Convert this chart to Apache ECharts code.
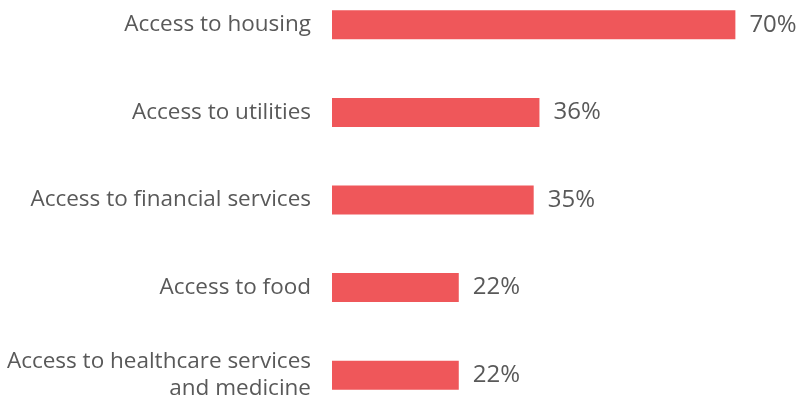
<!DOCTYPE html>
<html>
<head>
<meta charset="utf-8">
<script src="https://cdn.jsdelivr.net/npm/echarts@6/dist/echarts.min.js"></script>
<style>
  html, body { margin: 0; padding: 0; background: #fff; overflow: hidden; }
  #wrap { width: 800px; height: 402px; overflow: hidden; position: relative; }
  /* the plot bands run slightly past the top and bottom edges */
  #chart { width: 800px; height: 438px; position: absolute; left: 0; top: -19px; }
</style>
</head>
<body>
<div id="wrap"><div id="chart"></div></div>
<script>
// Share of respondents reporting each type of access
const categories = [
  'Access to housing',
  'Access to utilities',
  'Access to financial services',
  'Access to food',
  'Access to healthcare services\nand medicine'
];
const values = [70, 36, 35, 22, 22];

const textColor = '#595959';
const barColor = '#EF575A';
const fontFamily = '"Open Sans", "Noto Sans", sans-serif';

const chart = echarts.init(document.getElementById('chart'));
chart.setOption({
  animation: false,
  grid: { left: 332, right: 7, top: 0, bottom: 0, containLabel: false },
  xAxis: {
    type: 'value', min: 0, max: 80, show: false
  },
  yAxis: {
    type: 'category',
    data: categories,
    inverse: true,
    axisLine: { show: false },
    axisTick: { show: false },
    axisLabel: {
      margin: 21,
      color: textColor,
      fontFamily: fontFamily,
      fontSize: 22.5,
      lineHeight: 27,
      align: 'right'
    }
  },
  series: [{
    type: 'bar',
    data: values,
    barWidth: 29,
    itemStyle: { color: barColor },
    label: {
      show: true,
      position: 'right',
      distance: 14,
      color: textColor,
      fontFamily: fontFamily,
      fontSize: 24,
      formatter: '{c}%'
    }
  }]
});
</script>
</body>
</html>
